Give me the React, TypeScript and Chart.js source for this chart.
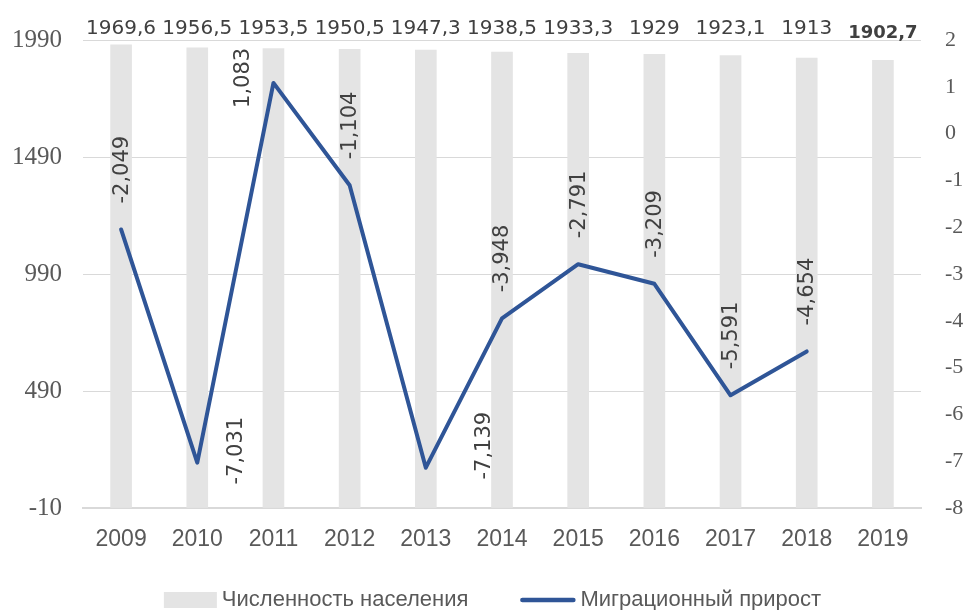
import React, { useEffect, useRef } from 'react';
import { Chart, registerables } from 'chart.js';

Chart.register(...registerables);

const years = ['2009', '2010', '2011', '2012', '2013', '2014', '2015', '2016', '2017', '2018', '2019'];
const population = [1969.6, 1956.5, 1953.5, 1950.5, 1947.3, 1938.5, 1933.3, 1929, 1923.1, 1913, 1902.7];
const migration = [-2.049, -7.031, 1.083, -1.104, -7.139, -3.948, -2.791, -3.209, -5.591, -4.654, null];
const leftTicks = [-10, 490, 990, 1490, 1990];
const rightTicks = [-8, -7, -6, -5, -4, -3, -2, -1, 0, 1, 2];
const seriesNames = ['Численность населения', 'Миграционный прирост'];

const BAR_COLOR = '#e4e4e4';
const LINE_COLOR = '#2f5597';
const TEXT_DARK = '#404040';
const TEXT_GRAY = '#595959';

const fmt = (v: number) => String(v).replace('.', ',');

export default function App() {
  const ref = useRef<HTMLCanvasElement>(null);

  useEffect(() => {
    document.body.style.margin = '0';
    const canvas = ref.current!;

    // placement of rotated line labels that are not simply above the point
    const labelOffsets: Record<number, [number, number]> = {
      1: [39, -12],
      2: [-30, -5],
      4: [59, -22],
    };

    const labelsPlugin = {
      id: 'customLabels',
      afterDatasetsDraw(chart: any) {
        const c = chart.ctx as CanvasRenderingContext2D;
        const barMeta = chart.getDatasetMeta(0);
        const lineMeta = chart.getDatasetMeta(1);
        const top = chart.chartArea.top;
        c.save();
        c.fillStyle = TEXT_DARK;
        c.textAlign = 'center';
        c.textBaseline = 'alphabetic';
        barMeta.data.forEach((el: any, i: number) => {
          const last = i === population.length - 1;
          c.font = last ? 'bold 18px "DejaVu Sans"' : '20px "DejaVu Sans"';
          c.fillText(fmt(population[i]), el.x, last ? top - 2 : top - 6);
        });
        c.font = '21px "DejaVu Sans"';
        lineMeta.data.forEach((pt: any, i: number) => {
          const v = migration[i];
          if (v == null) return;
          const text = fmt(v);
          const w = c.measureText(text).width;
          const off = labelOffsets[i];
          let cx: number, cy: number;
          if (off) {
            cx = pt.x + off[0];
            cy = pt.y + off[1];
          } else {
            cx = pt.x + 1;
            cy = pt.y - 26 - w / 2;
          }
          c.save();
          c.translate(cx, cy);
          c.rotate(-Math.PI / 2);
          c.textAlign = 'center';
          c.textBaseline = 'middle';
          c.fillText(text, 0, 0);
          c.restore();
        });
        c.restore();
      },
      afterDraw(chart: any) {
        const c = chart.ctx as CanvasRenderingContext2D;
        c.save();
        c.font = '22px "Liberation Sans"';
        const w1 = c.measureText(seriesNames[0]).width;
        const w2 = c.measureText(seriesNames[1]).width;
        const boxW = 53, lineW = 55, gapTxt = 5, gapItem = 52;
        const total = boxW + gapTxt + w1 + gapItem + lineW + gapTxt + w2;
        let x = chart.width / 2 + 10 - total / 2;
        const yc = 600;
        c.fillStyle = BAR_COLOR;
        c.fillRect(x, yc - 8, boxW, 16);
        x += boxW + gapTxt;
        c.fillStyle = TEXT_GRAY;
        c.textAlign = 'left';
        c.textBaseline = 'middle';
        c.fillText(seriesNames[0], x, yc);
        x += w1 + gapItem;
        c.strokeStyle = LINE_COLOR;
        c.lineWidth = 4.5;
        c.lineCap = 'round';
        c.beginPath();
        c.moveTo(x + 2, yc);
        c.lineTo(x + lineW - 2, yc);
        c.stroke();
        x += lineW + gapTxt;
        c.fillText(seriesNames[1], x, yc);
        c.restore();
      },
    };

    const chart = new Chart(canvas, {
      data: {
        labels: years,
        datasets: [
          {
            type: 'bar',
            label: seriesNames[0],
            data: population,
            backgroundColor: BAR_COLOR,
            barThickness: 21,
            base: -10,
            yAxisID: 'y',
            order: 2,
          } as any,
          {
            type: 'line',
            label: seriesNames[1],
            data: migration,
            borderColor: LINE_COLOR,
            borderWidth: 4,
            pointRadius: 0,
            borderJoinStyle: 'round',
            borderCapStyle: 'round',
            tension: 0,
            yAxisID: 'y1',
            order: 1,
          } as any,
        ],
      },
      options: {
        animation: false,
        responsive: false,
        layout: { padding: { top: 40, left: 0, right: 0, bottom: 0 } },
        plugins: {
          legend: { display: false },
          tooltip: { enabled: false },
        },
        scales: {
          x: {
            grid: { display: false, drawTicks: false },
            border: { display: true, color: '#d9d9d9', width: 2 },
            ticks: {
              padding: 18,
              color: TEXT_GRAY,
              font: { family: '"Liberation Sans"', size: 23 },
              maxRotation: 0,
              autoSkip: false,
            },
            afterFit: (s: any) => {
              s.height = 102;
            },
          },
          y: {
            position: 'left',
            min: -10,
            max: 1990,
            grid: { color: '#d9d9d9', lineWidth: 1, drawTicks: false },
            border: { display: false },
            ticks: {
              padding: 21,
              color: TEXT_GRAY,
              font: { family: '"Liberation Serif"', size: 25 },
              callback: (v: any) => String(v),
            },
            afterBuildTicks: (s: any) => {
              s.ticks = leftTicks.map((v) => ({ value: v }));
            },
            afterFit: (s: any) => {
              s.width = 83;
            },
          },
          y1: {
            position: 'right',
            min: -8,
            max: 2,
            grid: { display: false, drawTicks: false },
            border: { display: false },
            ticks: {
              padding: 24,
              color: TEXT_GRAY,
              font: { family: '"Liberation Serif"', size: 22 },
              callback: (v: any) => String(v),
            },
            afterBuildTicks: (s: any) => {
              s.ticks = rightTicks.map((v) => ({ value: v }));
            },
            afterFit: (s: any) => {
              s.width = 44;
            },
          },
        },
      },
      plugins: [labelsPlugin],
    } as any);

    return () => chart.destroy();
  }, []);

  return (
    <div style={{ position: 'absolute', left: 0, top: 0, width: 965, height: 610 }}>
      <canvas ref={ref} width={965} height={610} style={{ display: 'block' }} />
    </div>
  );
}
